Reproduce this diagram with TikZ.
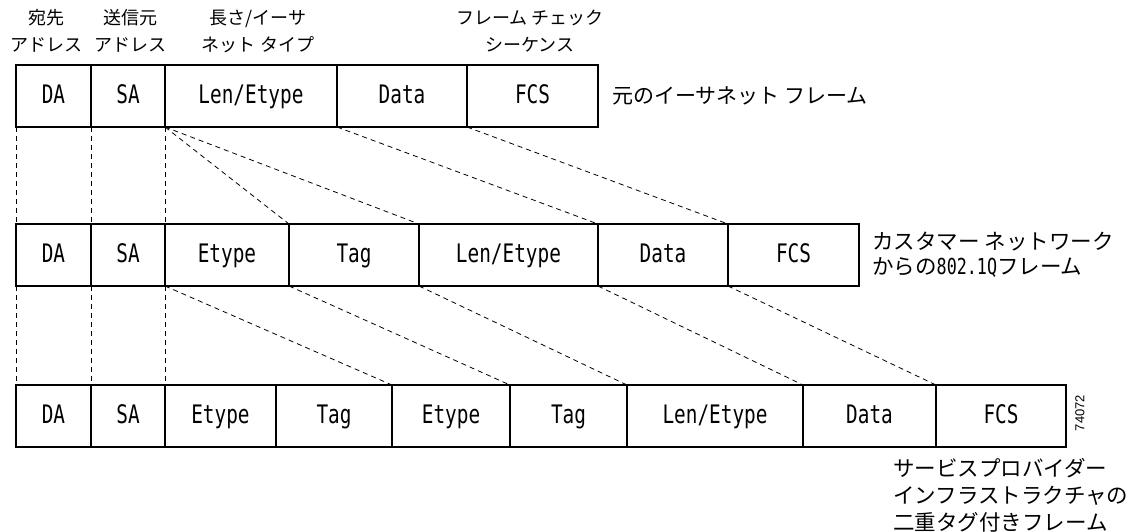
\documentclass[tikz,border=0pt]{standalone}
\usepackage{fontspec}
\setmainfont{Noto Sans CJK JP}
\newfontfamily\boxfont[FakeStretch=0.76]{DejaVu Sans Mono}
\newfontfamily\numfont{Liberation Sans}
\usetikzlibrary{positioning}

\tikzset{
  field/.style={draw, line width=1.2pt, minimum height=62, inner sep=0pt, outer sep=0pt,
    text height=19pt, text depth=5pt, font=\boxfont\fontsize{25.5}{25.5}\selectfont},
  link/.style={dash pattern=on 5pt off 4pt, line width=0.8pt},
  head/.style={align=center, inner sep=0pt, font=\fontsize{18}{27}\selectfont},
  lbl/.style={align=left, inner sep=0pt, anchor=west, font=\fontsize{21.5}{25}\selectfont}
}

\begin{document}
\begin{tikzpicture}[x=1pt,y=-1pt]
\useasboundingbox (0,0) rectangle (1138,531);
\def\lenet{Len/Etype}
\def\hw#1{{\boxfont\fontsize{22}{22}\selectfont #1}}

% Header labels over the first frame
\node[head] (hda) at (46,31) {宛先\\アドレス};
\node[head] (hsa) at (130,31) {送信元\\アドレス};
\node[head] (hlen) at (258,31) {長さ/イーサ\\ネット タイプ};
\node[head] (hfcs) at (530,31) {フレーム チェック\\シーケンス};

% Original frame
\foreach \l/\r/\t/\n in {16/91/DA/da1, 91/165/SA/sa1, 165/337/\lenet/len1,
                         337/467/Data/data1, 467/598/FCS/fcs1} {
  \node[field, minimum width={(\r-\l)*1pt}] (\n) at ({(\l+\r)/2},96) {\t};
}

% 802.1Q frame
\foreach \l/\r/\t/\n in {16/91/DA/da2, 91/165/SA/sa2, 165/289/Etype/et2, 289/419/Tag/tag2,
                         419/598/\lenet/len2, 598/728/Data/data2, 728/859/FCS/fcs2} {
  \node[field, minimum width={(\r-\l)*1pt}] (\n) at ({(\l+\r)/2},255) {\t};
}

% Double tagged frame
\foreach \l/\r/\t/\n in {16/91/DA/da3, 91/165/SA/sa3, 165/276/Etype/eta3, 276/392/Tag/taga3,
                         392/510/Etype/etb3, 510/627/Tag/tagb3, 627/803/\lenet/len3,
                         803/936/Data/data3, 936/1066/FCS/fcs3} {
  \node[field, minimum width={(\r-\l)*1pt}] (\n) at ({(\l+\r)/2},416) {\t};
}

% Frame labels
\node[lbl, font=\fontsize{21}{25}\selectfont, right=14pt of fcs1] (lab1) {元のイーサネット フレーム};
\node[lbl, right=13pt of fcs2] (lab2) {カスタマー ネットワーク\\からの\hw{802.1Q}フレーム};
\node[lbl, font=\fontsize{21.5}{27}\selectfont] (lab3) at (893,495)
  {サービスプロバイダー\\インフラストラクチャの\\二重タグ付きフレーム};
\node[inner sep=0pt, rotate=90, font=\numfont\fontsize{13}{13}\selectfont] (fig) at (1080,413) {74072};

% Dashed links, first to second frame
\draw[link] (da1.south west) -- (da2.north west);
\draw[link] (sa1.south west) -- (sa2.north west);
\draw[link] (len1.south west) -- (et2.north west);
\draw[link] (len1.south west) -- (tag2.north west);
\draw[link] (len1.south west) -- (len2.north west);
\draw[link] (data1.south west) -- (data2.north west);
\draw[link] (fcs1.south west) -- (fcs2.north west);

% Dashed links, second to third frame
\draw[link] (da2.south west) -- (da3.north west);
\draw[link] (sa2.south west) -- (sa3.north west);
\draw[link] (et2.south west) -- (eta3.north west);
\draw[link] (et2.south west) -- (etb3.north west);
\draw[link] (tag2.south west) -- (tagb3.north west);
\draw[link] (len2.south west) -- (len3.north west);
\draw[link] (data2.south west) -- (data3.north west);
\draw[link] (fcs2.south west) -- (fcs3.north west);
\end{tikzpicture}
\end{document}
